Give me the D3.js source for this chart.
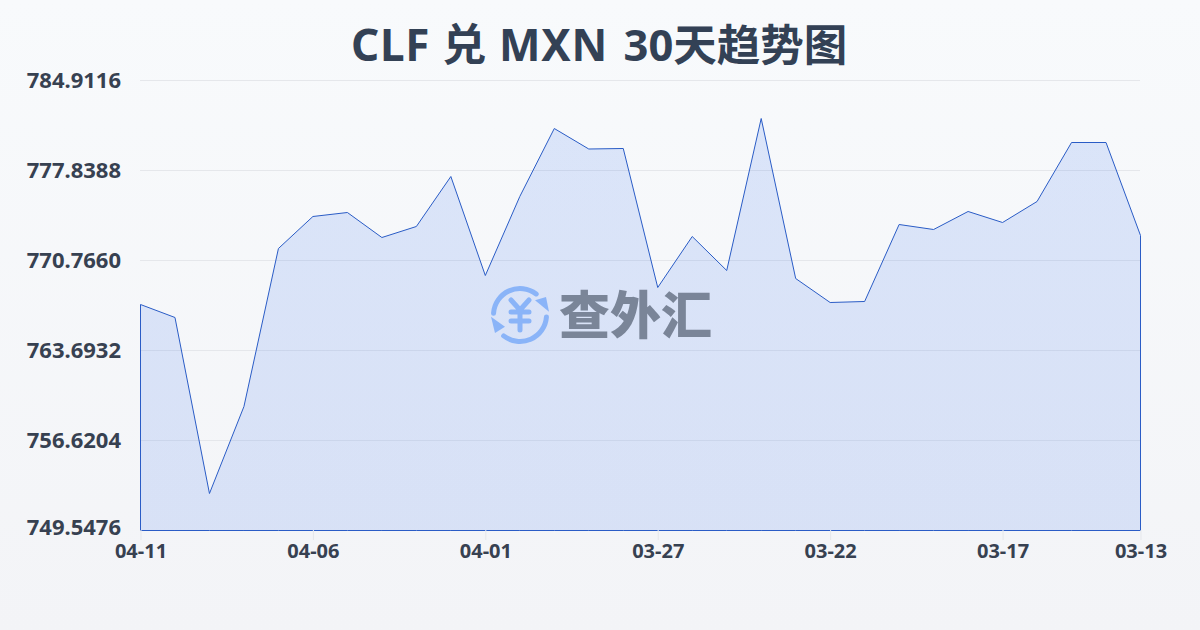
<!DOCTYPE html>
<html><head><meta charset="utf-8">
<script src="https://cdn.jsdelivr.net/npm/d3@7"></script>
<style>html,body{margin:0;padding:0;background:#f8fafc}svg{display:block}</style>
</head><body><div id="chart"></div>
<script>
const titleParts = ["CLF 兑 MXN ", "30天趋势图"];
const dates = ["04-11","04-10","04-09","04-08","04-07","04-06","04-05","04-04","04-03","04-02","04-01","03-31","03-30","03-29","03-28","03-27","03-26","03-25","03-24","03-23","03-22","03-21","03-20","03-19","03-18","03-17","03-16","03-15","03-14","03-13"];
const rates = [767.308,766.287,752.455,759.292,771.709,774.224,774.538,772.573,773.438,777.367,769.587,775.796,781.139,779.528,779.568,768.644,772.652,769.980,781.925,769.351,767.465,767.544,773.595,773.202,774.617,773.752,775.403,780.039,780.039,772.731];
const yTicks = [749.5476,756.6204,763.6932,770.7660,777.8388,784.9116];
const xTicks = ["04-11","04-06","04-01","03-27","03-22","03-17","03-13"];
const logoText = "查外汇";

const W=1200,H=630,font='"Noto Sans","Noto Sans CJK SC",sans-serif',cjk='"Noto Sans CJK SC",sans-serif';
const svg=d3.select("#chart").append("svg").attr("width",W).attr("height",H);
const defs=svg.append("defs");
const bg=defs.append("linearGradient").attr("id","bg").attr("x1",0).attr("y1",0).attr("x2",0).attr("y2",1);
bg.append("stop").attr("offset",0).attr("stop-color","#f8fafc");
bg.append("stop").attr("offset",1).attr("stop-color","#f3f4f7");
const ag=defs.append("linearGradient").attr("id","ag").attr("gradientUnits","userSpaceOnUse").attr("x1",0).attr("y1",80).attr("x2",0).attr("y2",530);
ag.append("stop").attr("offset",0).attr("stop-color","#2563eb").attr("stop-opacity",.135);
ag.append("stop").attr("offset",1).attr("stop-color","#2563eb").attr("stop-opacity",.135);
svg.append("rect").attr("width",W).attr("height",H).attr("fill","url(#bg)");

const x=d3.scalePoint().domain(dates).range([140.5,1140.5]);
const y=d3.scaleLinear().domain([yTicks[0],yTicks[yTicks.length-1]]).range([530.5,80.5]);

const title=svg.append("text").attr("x",351).attr("y",61).attr("font-family",font)
 .attr("font-size",44).attr("font-weight",700).attr("fill","#334155").attr("xml:space","preserve").style("white-space","pre");
title.append("tspan").attr("letter-spacing",.7).text(titleParts[0]);
title.append("tspan").attr("dx",3.5).attr("font-size",43.5).text(titleParts[1]);

svg.append("g").selectAll("line").data(yTicks).join("line").attr("x1",140).attr("x2",1140)
 .attr("y1",d=>y(d)).attr("y2",d=>y(d)).attr("stroke-width",1).attr("stroke","#e5e7eb");

const area=d3.area().x(d=>x(d.date)).y0(y(yTicks[0])).y1(d=>y(d.rate));
const pts=dates.map((date,i)=>({date,rate:rates[i]}));
svg.append("path").datum(pts).attr("d",area).attr("fill","url(#ag)");
svg.append("path").datum(pts).attr("d",area).attr("fill","none").attr("stroke","#2a5cc6").attr("stroke-width",1);

const xAxis=d3.axisBottom(x).tickValues(xTicks).tickSize(10).tickPadding(4);
const gx=svg.append("g").attr("transform","translate(0,530)").call(xAxis);
gx.select(".domain").remove();
gx.selectAll("line").attr("stroke","#e5e7eb");
gx.selectAll("text").attr("font-family",font).attr("font-size",20).attr("font-weight",700).attr("fill","#374151");

const yAxis=d3.axisLeft(y).tickValues(yTicks).tickFormat(d3.format(".4f")).tickSize(0).tickPadding(19);
const gy=svg.append("g").attr("transform","translate(140,0)").call(yAxis);
gy.select(".domain").remove();
gy.selectAll("text").attr("font-family",font).attr("font-size",22).attr("font-weight",700).attr("fill","#374151").attr("dy",0)
 .attr("y",d=>d===yTicks[0]?4:6.5);

// watermark
const logo=svg.append("g").attr("transform","translate(520,315)");
const logoBlue="#8ab4f8";
const arcGen=d3.arc().innerRadius(24).outerRadius(29).cornerRadius(2.5);
logo.append("path").attr("d",arcGen({startAngle:-1.6,endAngle:0.75})).attr("fill",logoBlue);
logo.append("path").attr("d",arcGen({startAngle:1.55,endAngle:3.9})).attr("fill",logoBlue);
logo.append("path").attr("d","M15,-14.7 L29,-3.3 L26,-18 Z").attr("fill",logoBlue);
logo.append("path").attr("d","M-15,11.7 L-29,1.7 L-25,18 Z").attr("fill",logoBlue);
logo.append("path").attr("d","M-9,-15 L0,-5 L9,-15 M-9,-3 H9 M-9,6 H9 M0,-5 V15").attr("fill","none").attr("stroke",logoBlue).attr("stroke-width",5).attr("stroke-linecap","round").attr("stroke-linejoin","round");
svg.append("text").attr("x",559).attr("y",334).attr("font-family",cjk).attr("font-size",51).attr("font-weight",900).attr("fill","#7a8598").text(logoText);
</script></body></html>
